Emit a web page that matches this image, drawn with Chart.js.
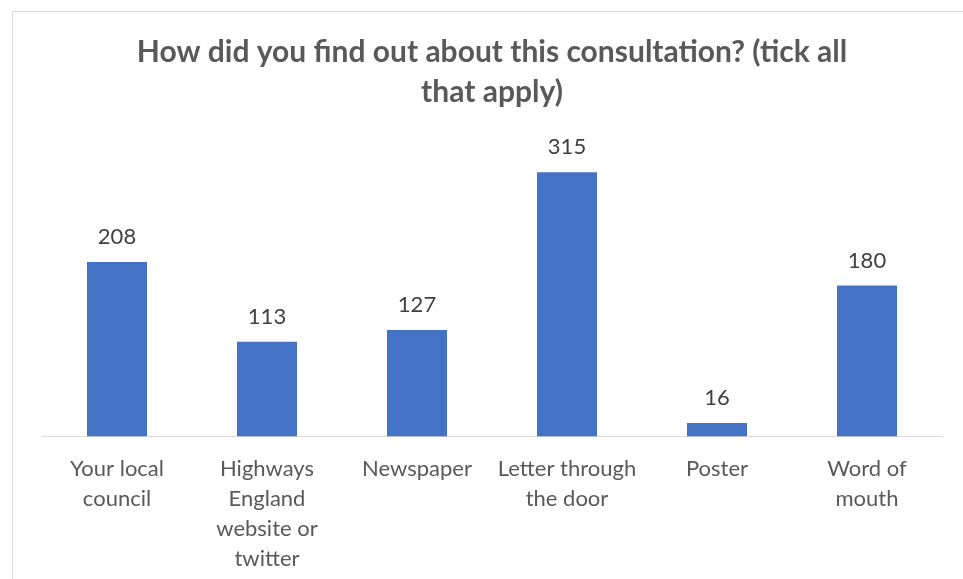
<!DOCTYPE html>
<html>
<head>
<meta charset="utf-8">
<script src="https://cdn.jsdelivr.net/npm/chart.js@4"></script>
<style>
  html, body { margin: 0; padding: 0; background: #fff; overflow: hidden; }
  #frame {
    position: absolute; left: 12px; top: 11px;
    width: 980px; height: 620px;
    border: 1px solid #d9d9d9;
  }
  #chart { position: absolute; left: 0; top: 0; }
</style>
</head>
<body>
<div id="frame">
  <canvas id="chart" width="958" height="590"></canvas>
</div>
<script>
// Survey answers
const categories = [
  ["Your local", "council"],
  ["Highways", "England", "website or", "twitter"],
  ["Newspaper"],
  ["Letter through", "the door"],
  ["Poster"],
  ["Word of", "mouth"]
];
const responses = [208, 113, 127, 315, 16, 180];

const FONT = "Lato, 'Open Sans', sans-serif";

// Write each bar's value just above it
const valueLabels = {
  id: "valueLabels",
  afterDatasetsDraw(chart) {
    const ctx = chart.ctx;
    const meta = chart.getDatasetMeta(0);
    ctx.save();
    ctx.font = "22px " + FONT;
    ctx.fillStyle = "#404040";
    ctx.textAlign = "center";
    ctx.textBaseline = "middle";
    meta.data.forEach((bar, i) => {
      ctx.fillText(String(responses[i]), bar.x, bar.y - 25);
    });
    ctx.restore();
  }
};

new Chart(document.getElementById("chart"), {
  type: "bar",
  data: {
    labels: categories,
    datasets: [{
      data: responses,
      backgroundColor: "#4472c4",
      barPercentage: 0.4,
      categoryPercentage: 1
    }]
  },
  options: {
    responsive: false,
    animation: false,
    layout: { padding: { left: 29, right: 29, bottom: 11.5, top: 0 } },
    plugins: {
      legend: { display: false },
      tooltip: { enabled: false },
      title: {
        display: true,
        text: ["How did you find out about this consultation? (tick all", "that apply)"],
        color: "#595959",
        font: { family: FONT, size: 30, weight: "bold", lineHeight: 40 / 30 },
        padding: { top: 20, bottom: 31 }
      }
    },
    scales: {
      x: {
        grid: { display: false, drawTicks: false },
        border: { display: true, color: "#d9d9d9", width: 1 },
        ticks: {
          color: "#595959",
          font: { family: FONT, size: 22, lineHeight: 30 / 22 },
          padding: 17,
          maxRotation: 0,
          autoSkip: false
        }
      },
      y: {
        display: false,
        min: 0,
        max: 350
      }
    }
  },
  plugins: [valueLabels]
});
</script>
</body>
</html>
